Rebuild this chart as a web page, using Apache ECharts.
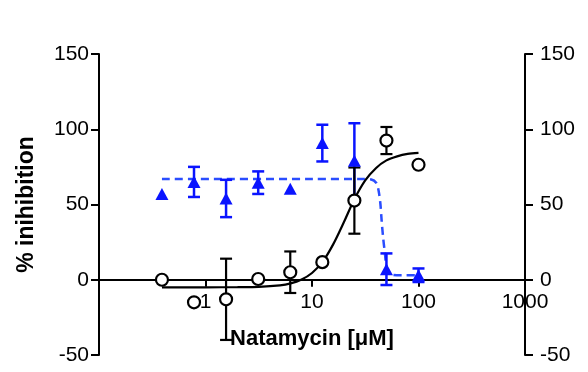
<!DOCTYPE html>
<html>
<head>
<meta charset="utf-8">
<script src="https://cdn.jsdelivr.net/npm/echarts@6/dist/echarts.min.js"></script>
<style>
  html, body { margin: 0; padding: 0; background: #fff; }
  #chart1 { width: 588px; height: 372px; }
</style>
</head>
<body>
<div id="chart1"></div>
<script>
// concentrations (uM)
const conc = [0.39, 0.78, 1.56, 3.125, 6.25, 12.5, 25, 50, 100];

// open circles (black)
const circleMean = [0, -15, -13, 0.5, 5, 11.7, 52.6, 92.5, 76.4];
const circleErr  = [0, 0, 27, 0, 13.8, 0, 22, 9, 0];

// filled triangles (blue)
const triMean = [57, 65, 54, 64.5, 60.4, 90.8, 79, 7, 3];
const triErr  = [0, 10, 12.4, 7.5, 0, 12.2, 25, 10.5, 4.5];

// fitted curves
const fitBlackX = [0.39, 1, 2, 3.16, 5, 6.3, 7.9, 10, 12.6, 15.8, 20, 25, 31.6, 40, 50, 63, 79, 100];
const fitBlackY = [-5, -5, -4.9, -4.7, -3.7, -2.4, 0, 4.5, 12, 23.5, 38.5, 53.5, 66, 74.3, 79.3, 82, 83.6, 84.3];
const fitBlueX = [0.39, 10, 30, 36, 40, 42, 43.8, 45, 46.4, 48.3, 51, 57, 70, 100];
const fitBlueY = [67, 67, 67, 66.6, 64.5, 60, 51, 40, 29, 18, 6, 3.3, 3, 3];

const yTicks = { min: -50, max: 150, interval: 50 };

const chart = echarts.init(document.getElementById('chart1'));

function pairs(xs, ys) {
    return xs.map((x, i) => [x, ys[i]]);
}

function errRows(means, errs) {
    const rows = [];
    conc.forEach((c, i) => {
        if (errs[i] > 0) rows.push([c, means[i] - errs[i], means[i] + errs[i]]);
    });
    return rows;
}

function errorBar(color, width) {
    return function (params, api) {
        const x = api.value(0);
        const top = api.coord([x, api.value(2)]);
        const bot = api.coord([x, api.value(1)]);
        const half = 6;
        const style = { stroke: color, lineWidth: width };
        return {
            type: 'group',
            children: [
                { type: 'line', shape: { x1: top[0], y1: top[1], x2: bot[0], y2: bot[1] }, style: style },
                { type: 'line', shape: { x1: top[0] - half, y1: top[1], x2: top[0] + half, y2: top[1] }, style: style },
                { type: 'line', shape: { x1: bot[0] - half, y1: bot[1], x2: bot[0] + half, y2: bot[1] }, style: style }
            ]
        };
    };
}

const font = 'Liberation Sans, Arial, sans-serif';
const axisLine = { show: true, onZero: false, lineStyle: { color: '#000', width: 2 } };

const grid = { left: 99, right: 63, top: 54, bottom: 17 };
const gridH = 372 - grid.top - grid.bottom;
// lift the x axis (line, ticks, labels, name) up to y = 0
const zeroOffset = -gridH * (0 - yTicks.min) / (yTicks.max - yTicks.min);

const option = {
    animation: false,
    grid: Object.assign({ containLabel: false, outerBoundsMode: 'none' }, grid),
    xAxis: {
        type: 'log',
        min: 0.1,
        max: 1000,
        logBase: 10,
        position: 'bottom',
        offset: zeroOffset,
        name: 'Natamycin [\u03bcM]',
        nameLocation: 'middle',
        nameGap: 48,
        nameTextStyle: { fontFamily: font, fontSize: 22, fontWeight: 'bold', color: '#000' },
        axisLine: axisLine,
        axisTick: { show: true, length: 7, lineStyle: { color: '#000', width: 2 } },
        minorTick: { show: false },
        splitLine: { show: false },
        axisLabel: {
            margin: 12,
            fontFamily: font,
            fontSize: 21,
            color: '#000',
            formatter: v => (v < 1 ? '' : String(v))
        }
    },
    yAxis: [
        {
            type: 'value',
            min: yTicks.min, max: yTicks.max, interval: yTicks.interval,
            name: '% inihibition',
            nameLocation: 'middle',
            nameGap: 61,
            nameTextStyle: { fontFamily: font, fontSize: 23, fontWeight: 'bold', color: '#000' },
            axisLine: axisLine,
            axisTick: { show: true, length: 8, lineStyle: { color: '#000', width: 2 } },
            splitLine: { show: false },
            axisLabel: { margin: 10, fontFamily: font, fontSize: 21, color: '#000' }
        },
        {
            type: 'value',
            position: 'right',
            min: yTicks.min, max: yTicks.max, interval: yTicks.interval,
            axisLine: axisLine,
            axisTick: { show: true, length: 8, lineStyle: { color: '#000', width: 2 } },
            splitLine: { show: false },
            axisLabel: { margin: 15, fontFamily: font, fontSize: 21, color: '#000' }
        }
    ],
    series: [
        {
            type: 'line',
            data: pairs(fitBlueX, fitBlueY),
            smooth: 0.3,
            showSymbol: false,
            lineStyle: { color: '#2a4dff', width: 2.5, type: [8, 5] },
            z: 2
        },
        {
            type: 'line',
            data: pairs(fitBlackX, fitBlackY),
            smooth: 0.3,
            showSymbol: false,
            lineStyle: { color: '#000', width: 2.2 },
            z: 2
        },
        {
            type: 'custom',
            renderItem: errorBar('#0a14ff', 2.5),
            data: errRows(triMean, triErr),
            z: 3
        },
        {
            type: 'custom',
            renderItem: errorBar('#000', 2.2),
            data: errRows(circleMean, circleErr),
            z: 3
        },
        {
            type: 'scatter',
            data: pairs(conc, triMean),
            symbol: 'triangle',
            symbolSize: [13, 12],
            itemStyle: { color: '#0a14ff', opacity: 1 },
            z: 4
        },
        {
            type: 'scatter',
            data: pairs(conc, circleMean),
            symbol: 'circle',
            symbolSize: 12,
            itemStyle: { color: '#fff', borderColor: '#000', borderWidth: 2.2, opacity: 1 },
            z: 5
        }
    ]
};

chart.setOption(option);
window.addEventListener('resize', function () { chart.resize(); });
</script>
</body>
</html>
